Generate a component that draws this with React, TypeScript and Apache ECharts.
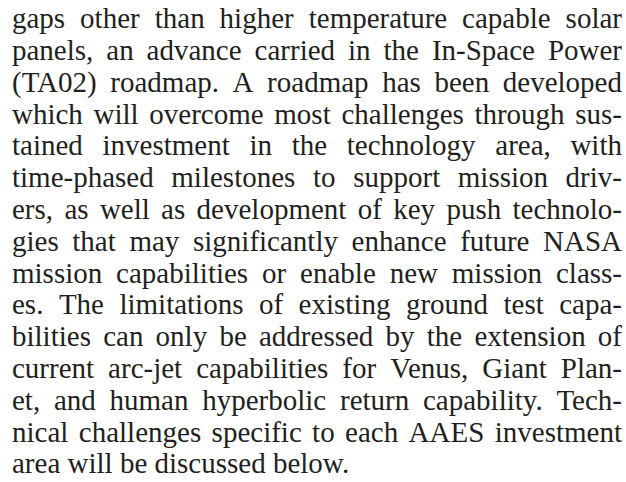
import React, { useEffect, useRef } from "react";
import * as echarts from "echarts";

const LINES: string[] = [
  "gaps other than higher temperature capable solar",
  "panels, an advance carried in the In-Space Power",
  "(TA02) roadmap. A roadmap has been developed",
  "which will overcome most challenges through sus-",
  "tained investment in the technology area, with",
  "time-phased milestones to support mission driv-",
  "ers, as well as development of key push technolo-",
  "gies that may significantly enhance future NASA",
  "mission capabilities or enable new mission class-",
  "es. The limitations of existing ground test capa-",
  "bilities can only be addressed by the extension of",
  "current arc-jet capabilities for Venus, Giant Plan-",
  "et, and human hyperbolic return capability. Tech-",
  "nical challenges specific to each AAES investment",
  "area will be discussed below.",
];

const FONT_FAMILY = '"Liberation Serif", "Times New Roman", Times, serif';
const TEXT_COLOR = "#231f20";
const LEFT = 12;
const RIGHT = 622;
const FIRST_BASELINE = 28;
const LINE_STEP = 31.8;

function buildGraphics() {
  const canvas = document.createElement("canvas");
  const ctx = canvas.getContext("2d")!;
  const measure = (s: string, size: number) => {
    ctx.font = `${size}px ${FONT_FAMILY}`;
    return ctx.measureText(s).width;
  };
  const width = RIGHT - LEFT;
  let maxNatural = 0;
  LINES.forEach((line, i) => {
    if (i === LINES.length - 1) return;
    const w = measure(line, 100) / 100;
    if (w > maxNatural) maxNatural = w;
  });
  const size = Math.min(30, Math.floor(width / maxNatural));
  const central = 0.3375 * size;
  const els: any[] = [];
  LINES.forEach((line, i) => {
    const words = line.split(" ");
    const baseline = FIRST_BASELINE + i * LINE_STEP;
    const ws = words.map((w) => measure(w, size));
    const total = ws.reduce((a, b) => a + b, 0);
    const last = i === LINES.length - 1;
    const gap = last || words.length < 2 ? measure(" ", size) : (width - total) / (words.length - 1);
    let x = LEFT;
    words.forEach((w, k) => {
      els.push({
        type: "text",
        x: Math.round(x * 10) / 10,
        y: Math.round((baseline - central) * 10) / 10,
        style: {
          text: w,
          fontSize: size,
          fontFamily: FONT_FAMILY,
          fill: TEXT_COLOR,
          verticalAlign: "middle",
        },
      });
      x += ws[k] + gap;
    });
  });
  return els;
}

export default function App() {
  const ref = useRef<HTMLDivElement>(null);
  useEffect(() => {
    document.body.style.margin = "0";
    let disposed = false;
    const chart = echarts.init(ref.current!, null, { renderer: "svg" });
    const render = () => {
      if (disposed) return;
      chart.setOption(
        {
          animation: false,
          backgroundColor: "#ffffff",
          graphic: { elements: buildGraphics() },
        },
        true
      );
    };
    render();
    const fonts = (document as any).fonts;
    if (fonts && fonts.load) {
      fonts.load('30px "Liberation Serif"').then(render).catch(() => {});
    }
    return () => {
      disposed = true;
      chart.dispose();
    };
  }, []);
  return (
    <div
      ref={ref}
      style={{ position: "fixed", left: 0, top: 0, width: 626, height: 482, background: "#fff" }}
    />
  );
}
